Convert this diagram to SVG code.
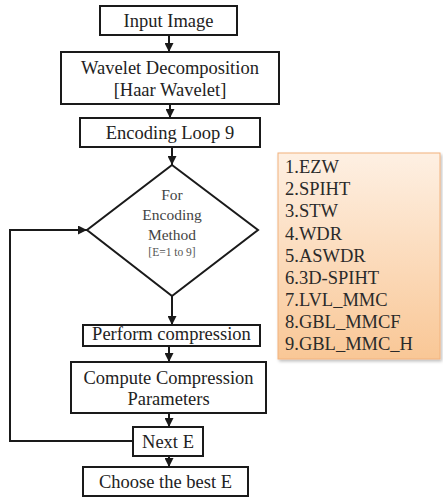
<svg xmlns="http://www.w3.org/2000/svg" width="443" height="501" viewBox="0 0 443 501">
<style>
.box{fill:#fff;stroke:#1a1a1a;stroke-width:2}
.t{font-family:"Liberation Serif",serif;font-size:18.5px;fill:#222;text-anchor:middle}
.d{font-family:"Liberation Serif",serif;font-size:15.5px;fill:#444;text-anchor:middle}
.ds{font-family:"Liberation Serif",serif;font-size:11.5px;fill:#555;text-anchor:middle}
.l{font-family:"Liberation Serif",serif;font-size:18.5px;fill:#2a2a2a}
.c{fill:none;stroke:#1a1a1a;stroke-width:2}
</style>
<defs>
<marker id="ah" viewBox="0 0 10 10" refX="10" refY="5" markerWidth="4.5" markerHeight="4.5" orient="auto" markerUnits="strokeWidth">
<path d="M0,0 L10,5 L0,10 z" fill="#1a1a1a"/>
</marker>
<linearGradient id="og" x1="0" y1="0" x2="0" y2="1">
<stop offset="0" stop-color="#fef0e3"/>
<stop offset="1" stop-color="#f9c796"/>
</linearGradient>
<filter id="sh" x="-10%" y="-10%" width="130%" height="130%">
<feDropShadow dx="1.5" dy="2" stdDeviation="1.5" flood-color="#000" flood-opacity="0.25"/>
</filter>
</defs>
<g id="connectors">
<line class="c" x1="169" y1="35" x2="169" y2="52" marker-end="url(#ah)"/>
<line class="c" x1="170" y1="104" x2="170" y2="118" marker-end="url(#ah)"/>
<line class="c" x1="172" y1="147" x2="172" y2="165" marker-end="url(#ah)"/>
<line class="c" x1="172" y1="296" x2="172" y2="325" marker-end="url(#ah)"/>
<line class="c" x1="169" y1="346" x2="169" y2="362" marker-end="url(#ah)"/>
<line class="c" x1="169" y1="413" x2="169" y2="427" marker-end="url(#ah)"/>
<line class="c" x1="169" y1="456" x2="169" y2="467" marker-end="url(#ah)"/>
<polyline class="c" points="133,441 10,441 10,230 87,230" marker-end="url(#ah)"/>
</g>
<g id="input-image">
<rect class="box" x="100" y="6" width="137" height="29"/>
<text class="t" x="168.5" y="27">Input Image</text>
</g>
<g id="wavelet">
<rect class="box" x="61" y="52" width="218" height="52"/>
<text class="t" x="170" y="74">Wavelet Decomposition</text>
<text class="t" x="170" y="96">[Haar Wavelet]</text>
</g>
<g id="encoding-loop">
<rect class="box" x="80" y="118" width="180" height="29"/>
<text class="t" x="170" y="139">Encoding Loop 9</text>
</g>
<g id="decision">
<polygon class="box" points="172,165 258,230 172,296 87,230"/>
<text class="d" x="172" y="200">For</text>
<text class="d" x="172" y="220">Encoding</text>
<text class="d" x="172" y="240">Method</text>
<text class="ds" x="172" y="256">[E=1 to 9]</text>
</g>
<g id="perform">
<rect class="box" x="83" y="325" width="177" height="21"/>
<text class="t" x="171.5" y="340">Perform compression</text>
</g>
<g id="compute">
<rect class="box" x="71" y="362" width="195" height="51"/>
<text class="t" x="168.5" y="384">Compute Compression</text>
<text class="t" x="168.5" y="405">Parameters</text>
</g>
<g id="next-e">
<rect class="box" x="133" y="427" width="70" height="29"/>
<text class="t" x="168" y="448">Next E</text>
</g>
<g id="choose">
<rect class="box" x="83" y="467" width="165" height="29"/>
<text class="t" x="165.5" y="488">Choose the best E</text>
</g>
<g id="methods-list">
<rect x="278" y="153" width="162" height="206" fill="url(#og)" stroke="#f2b27c" stroke-width="1" filter="url(#sh)"/>
<text class="l" x="285" y="173">1.EZW</text>
<text class="l" x="285" y="195">2.SPIHT</text>
<text class="l" x="285" y="217">3.STW</text>
<text class="l" x="285" y="240">4.WDR</text>
<text class="l" x="285" y="262">5.ASWDR</text>
<text class="l" x="285" y="284">6.3D-SPIHT</text>
<text class="l" x="285" y="306">7.LVL_MMC</text>
<text class="l" x="285" y="328">8.GBL_MMCF</text>
<text class="l" x="285" y="350">9.GBL_MMC_H</text>
</g>
</svg>
